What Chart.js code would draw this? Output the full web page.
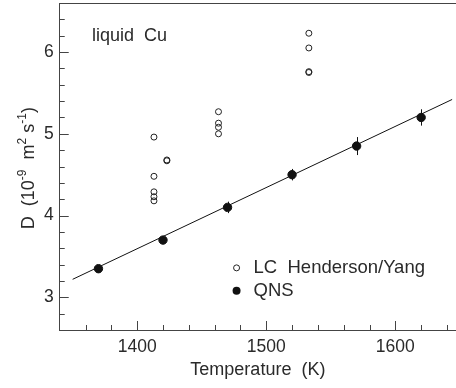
<!DOCTYPE html>
<html>
<head>
<meta charset="utf-8">
<script src="https://cdn.jsdelivr.net/npm/chart.js@4/dist/chart.umd.min.js"></script>
<style>
  html, body { margin: 0; padding: 0; background: #fff; }
</style>
</head>
<body>
<canvas id="diffChart" width="456" height="388"></canvas>
<script>
// LC Henderson/Yang (open circles)
const lcTemp = [1413, 1413, 1413, 1413, 1413, 1423, 1423, 1463, 1463, 1463, 1463, 1533, 1533, 1533, 1533];
const lcD = [4.96, 4.48, 4.29, 4.23, 4.18, 4.68, 4.67, 5.27, 5.13, 5.08, 5.00, 6.23, 6.05, 5.76, 5.75];

// QNS (filled circles with error bars)
const qnsTemp = [1370, 1420, 1470, 1520, 1570, 1620];
const qnsD = [3.35, 3.70, 4.10, 4.50, 4.85, 5.20];
const qnsErr = [0.03, 0.03, 0.07, 0.07, 0.11, 0.10];

// fitted line
const fitTemp = [1350, 1644];
const fitD = [3.22, 5.42];

const xTicks = [1400, 1500, 1600];
const yTicks = [3, 4, 5, 6];

const FONT = "'Liberation Sans', Arial, Helvetica, sans-serif";
const TEXT = "#2a2a2a";
const AXIS = "#444";

const toPts = (xs, ys) => xs.map((x, i) => ({ x: x, y: ys[i] }));

// no extra padding for edge labels
const noPad = (s) => { s.paddingTop = 0; s.paddingBottom = 0; s.paddingLeft = 0; s.paddingRight = 0; };

// ticks inside, top frame, error bars, labels
const extras = {
    id: "extras",
    beforeDatasetsDraw(chart) {
        const { ctx, scales: { x, y } } = chart;
        ctx.save();
        ctx.strokeStyle = "#111";
        ctx.lineWidth = 1;
        qnsTemp.forEach((t, i) => {
            const px = Math.round(x.getPixelForValue(t)) + 0.5;
            ctx.beginPath();
            ctx.moveTo(px, y.getPixelForValue(qnsD[i] - qnsErr[i]));
            ctx.lineTo(px, y.getPixelForValue(qnsD[i] + qnsErr[i]));
            ctx.stroke();
        });
        ctx.restore();
    },
    afterDraw(chart) {
        const { ctx, chartArea: a, scales: { x, y } } = chart;
        ctx.save();
        ctx.strokeStyle = AXIS;
        ctx.lineWidth = 1;
        ctx.beginPath();
        // top frame line
        ctx.moveTo(a.left, a.top + 0.5);
        ctx.lineTo(a.right, a.top + 0.5);
        // x ticks every 20, major every 100
        for (let v = 1360; v <= 1640; v += 20) {
            const px = Math.round(x.getPixelForValue(v)) + 0.5;
            const len = v % 100 === 0 ? 9 : 5;
            ctx.moveTo(px, a.bottom);
            ctx.lineTo(px, a.bottom - len);
        }
        // y ticks every 0.2, major every 1
        for (let k = 14; k <= 32; k++) {
            const v = k / 5;
            const py = Math.round(y.getPixelForValue(v)) + 0.5;
            const len = k % 5 === 0 ? 9 : 5;
            ctx.moveTo(a.left, py);
            ctx.lineTo(a.left + len, py);
        }
        ctx.stroke();

        ctx.fillStyle = TEXT;
        ctx.textBaseline = "middle";
        ctx.font = "18px " + FONT;
        ctx.fillText("liquid  Cu", x.getPixelForValue(1365), y.getPixelForValue(6.19));

        // legend
        const lx = x.getPixelForValue(1477);
        const ly1 = y.getPixelForValue(3.36);
        const ly2 = y.getPixelForValue(3.08);
        ctx.beginPath();
        ctx.arc(lx, ly1, 3, 0, Math.PI * 2);
        ctx.strokeStyle = "#222";
        ctx.stroke();
        ctx.beginPath();
        ctx.arc(lx, ly2, 4, 0, Math.PI * 2);
        ctx.fillStyle = "#111";
        ctx.fill();
        ctx.fillStyle = TEXT;
        ctx.font = "18.5px " + FONT;
        ctx.fillText("LC  Henderson/Yang", lx + 17, ly1);
        ctx.fillText("QNS", lx + 17, ly2);

        // y title with superscripts
        const parts = [
            ["D  (10", false], ["-9", true], ["  m", false], ["2", true],
            [" s", false], ["-1", true], [")", false]
        ];
        const big = "18px " + FONT, small = "12px " + FONT;
        let total = 0;
        parts.forEach(p => { ctx.font = p[1] ? small : big; total += ctx.measureText(p[0]).width; });
        ctx.translate(27, y.getPixelForValue(4.58));
        ctx.rotate(-Math.PI / 2);
        ctx.textBaseline = "alphabetic";
        let cx = -total / 2;
        parts.forEach(p => {
            ctx.font = p[1] ? small : big;
            ctx.fillText(p[0], cx, p[1] ? -1 : 6.5);
            cx += ctx.measureText(p[0]).width;
        });
        ctx.restore();
    }
};

new Chart(document.getElementById("diffChart"), {
    type: "scatter",
    data: {
        datasets: [
            {
                label: "fit",
                type: "line",
                data: toPts(fitTemp, fitD),
                borderColor: "#111",
                borderWidth: 1,
                pointRadius: 0,
                fill: false,
            },
            {
                label: "LC  Henderson/Yang",
                data: toPts(lcTemp, lcD),
                pointRadius: 3,
                pointBorderWidth: 1,
                borderColor: "#222",
                backgroundColor: "rgba(255,255,255,0)",
            },
            {
                label: "QNS",
                data: toPts(qnsTemp, qnsD),
                pointRadius: 4.2,
                borderColor: "#111",
                backgroundColor: "#111",
            },
        ],
    },
    options: {
        responsive: false,
        animation: false,
        layout: { autoPadding: false, padding: { left: 38, right: 0, top: 3, bottom: 0 } },
        plugins: { legend: { display: false }, tooltip: { enabled: false } },
        scales: {
            x: {
                type: "linear",
                min: 1340,
                max: 1647,
                afterBuildTicks: (s) => { s.ticks = xTicks.map((v) => ({ value: v })); },
                afterFit: (s) => { noPad(s); s.height = 58; },
                grid: { display: false, drawTicks: false },
                border: { display: true, color: AXIS, width: 1 },
                ticks: {
                    color: TEXT, padding: 7, maxRotation: 0,
                    font: { family: FONT, size: 17.5 },
                    callback: (v) => String(v),
                },
                title: {
                    display: true,
                    text: "Temperature  (K)",
                    color: TEXT,
                    font: { family: FONT, size: 18 },
                    padding: { top: 0, bottom: 7 },
                },
            },
            y: {
                type: "linear",
                min: 2.6,
                max: 6.6,
                afterBuildTicks: (s) => { s.ticks = yTicks.map((v) => ({ value: v })); },
                afterFit: noPad,
                grid: { display: false, drawTicks: false },
                border: { display: true, color: AXIS, width: 1 },
                ticks: { color: TEXT, padding: 6, font: { family: FONT, size: 17.5 }, callback: (v) => String(v) },
            },
        },
    },
    plugins: [extras],
});
</script>
</body>
</html>
